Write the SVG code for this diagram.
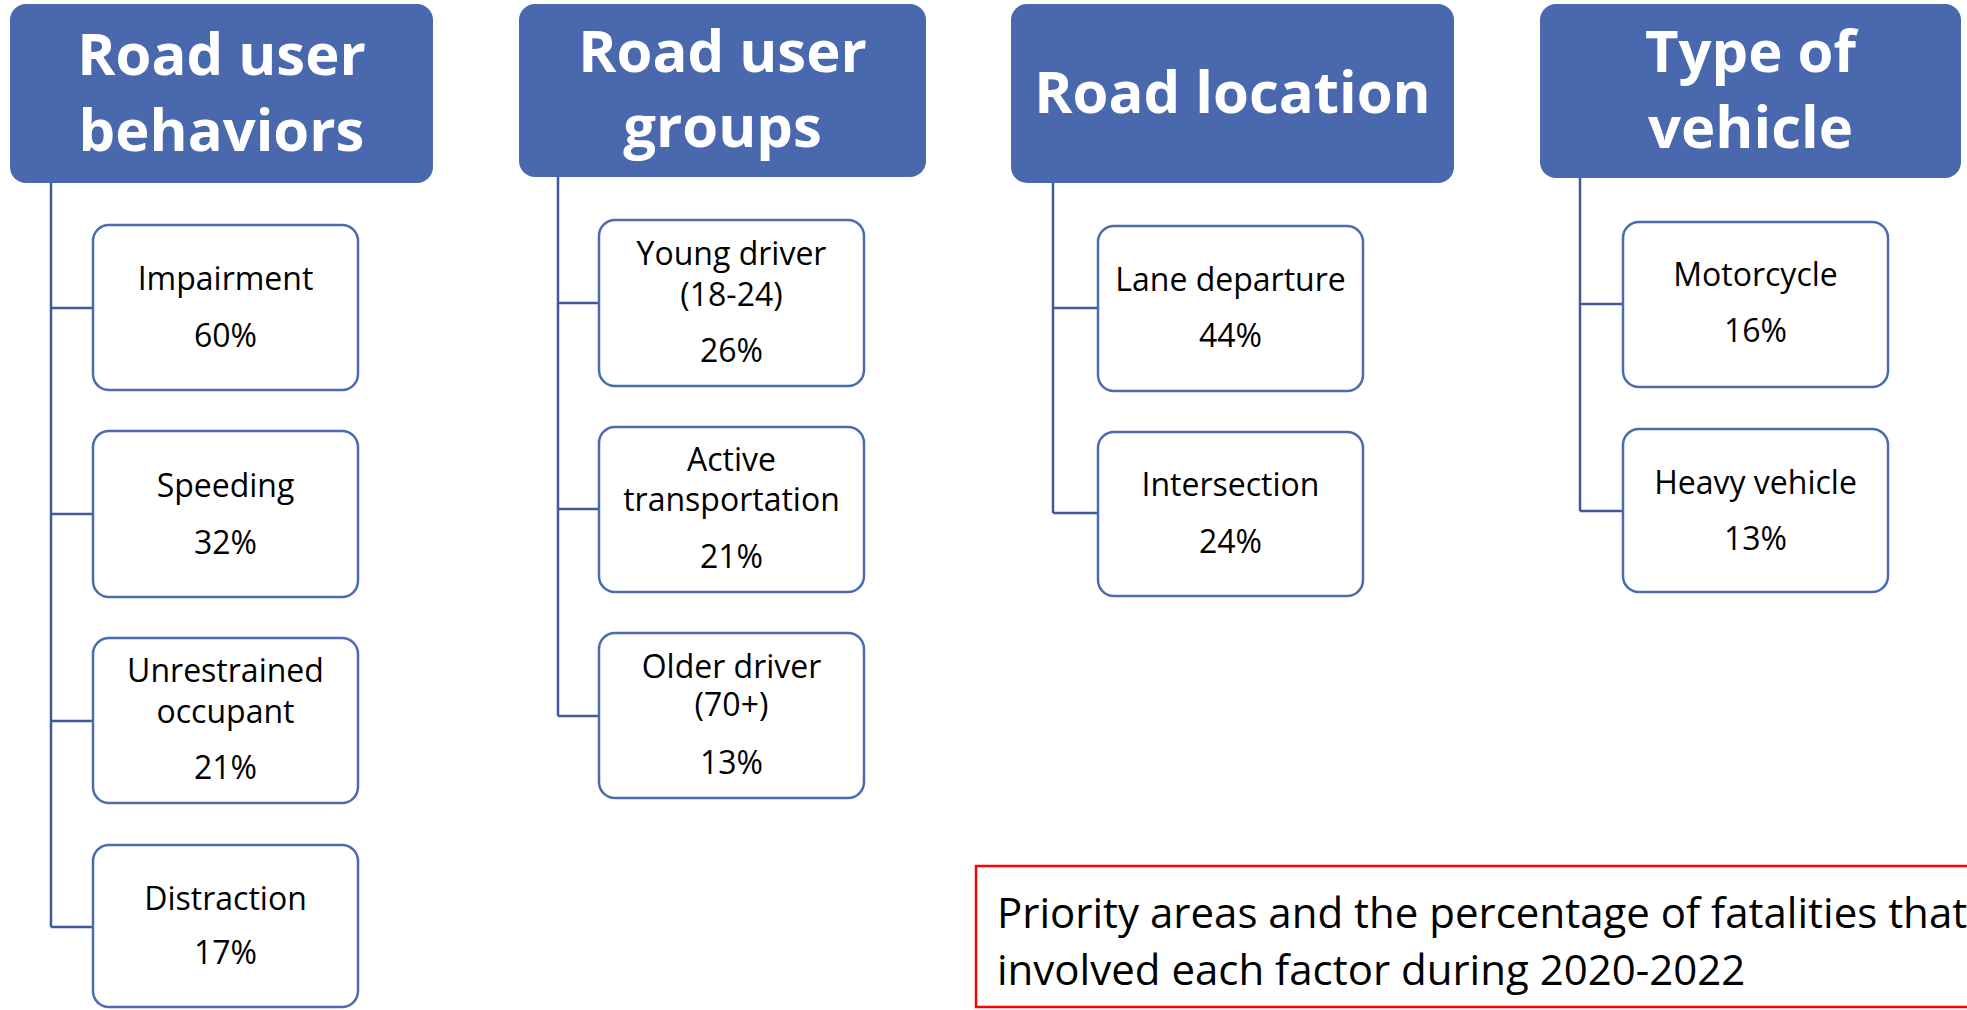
<svg xmlns="http://www.w3.org/2000/svg" width="1967" height="1010" viewBox="0 0 1967 1010">
<style>
.hdr{fill:#4A68AE;}
.ht{fill:#fff;font-family:"Open Sans","Noto Sans",sans-serif;font-weight:bold;font-size:58px;text-anchor:middle;}
.box{fill:#fff;stroke:#4A6BB0;stroke-width:2.5;}
.bt{fill:#000;font-family:"Open Sans","Noto Sans",sans-serif;font-size:32px;text-anchor:middle;}
.con{fill:none;stroke:#3F5A9C;stroke-width:2.5;}
.note{fill:#000;font-family:"Open Sans","Noto Sans",sans-serif;font-size:42px;}
</style>
<rect width="1967" height="1010" fill="#fff"/>
<g id="connectors">
<path class="con" d="M51,183 V927 M51,308 H93 M51,514 H93 M51,721 H93 M51,927 H93"/>
<path class="con" d="M558,177 V716 M558,303 H599 M558,509 H599 M558,716 H599"/>
<path class="con" d="M1053,183 V513 M1053,308 H1098 M1053,513 H1098"/>
<path class="con" d="M1580,178 V511 M1580,304 H1623 M1580,511 H1623"/>
</g>
<g id="h-behaviors"><rect class="hdr" x="10" y="4" width="423" height="179" rx="16"/><text class="ht" x="221.5" y="75">Road user</text><text class="ht" x="221.5" y="151">behaviors</text></g>
<g id="h-groups"><rect class="hdr" x="519" y="4" width="407" height="173" rx="16"/><text class="ht" x="722.5" y="72">Road user</text><text class="ht" x="722.5" y="147">groups</text></g>
<g id="h-location"><rect class="hdr" x="1011" y="4" width="443" height="179" rx="16"/><text class="ht" x="1232.5" y="113">Road location</text></g>
<g id="h-vehicle"><rect class="hdr" x="1540" y="4" width="421" height="174" rx="16"/><text class="ht" x="1750.5" y="72">Type of</text><text class="ht" x="1750.5" y="148">vehicle</text></g>

<g id="n-impairment"><rect class="box" x="93" y="225" width="265" height="165" rx="16"/><text class="bt" x="225.5" y="290">Impairment</text><text class="bt" x="225.5" y="347">60%</text></g>
<g id="n-speeding"><rect class="box" x="93" y="431" width="265" height="166" rx="16"/><text class="bt" x="225.5" y="497">Speeding</text><text class="bt" x="225.5" y="554">32%</text></g>
<g id="n-unrestrained"><rect class="box" x="93" y="638" width="265" height="165" rx="16"/><text class="bt" x="225.5" y="682">Unrestrained</text><text class="bt" x="225.5" y="723">occupant</text><text class="bt" x="225.5" y="779">21%</text></g>
<g id="n-distraction"><rect class="box" x="93" y="845" width="265" height="162" rx="16"/><text class="bt" x="225.5" y="910">Distraction</text><text class="bt" x="225.5" y="964">17%</text></g>

<g id="n-young"><rect class="box" x="599" y="220" width="265" height="166" rx="16"/><text class="bt" x="731.5" y="265">Young driver</text><text class="bt" x="731.5" y="306">(18-24)</text><text class="bt" x="731.5" y="362">26%</text></g>
<g id="n-active"><rect class="box" x="599" y="427" width="265" height="165" rx="16"/><text class="bt" x="731.5" y="471">Active</text><text class="bt" x="731.5" y="511">transportation</text><text class="bt" x="731.5" y="568">21%</text></g>
<g id="n-older"><rect class="box" x="599" y="633" width="265" height="165" rx="16"/><text class="bt" x="731.5" y="678">Older driver</text><text class="bt" x="731.5" y="716">(70+)</text><text class="bt" x="731.5" y="774">13%</text></g>

<g id="n-lane"><rect class="box" x="1098" y="226" width="265" height="165" rx="16"/><text class="bt" x="1230.5" y="291">Lane departure</text><text class="bt" x="1230.5" y="347">44%</text></g>
<g id="n-intersection"><rect class="box" x="1098" y="432" width="265" height="164" rx="16"/><text class="bt" x="1230.5" y="496">Intersection</text><text class="bt" x="1230.5" y="553">24%</text></g>

<g id="n-motorcycle"><rect class="box" x="1623" y="222" width="265" height="165" rx="16"/><text class="bt" x="1755.5" y="286">Motorcycle</text><text class="bt" x="1755.5" y="342">16%</text></g>
<g id="n-heavy"><rect class="box" x="1623" y="429" width="265" height="163" rx="16"/><text class="bt" x="1755.5" y="494">Heavy vehicle</text><text class="bt" x="1755.5" y="550">13%</text></g>

<g id="caption"><rect x="976" y="866" width="1000" height="141" fill="#fff" stroke="#FF0000" stroke-width="2.5"/><text class="note" x="997" y="928">Priority areas and the percentage of fatalities that</text><text class="note" x="997" y="985">involved each factor during 2020-2022</text></g>
</svg>
